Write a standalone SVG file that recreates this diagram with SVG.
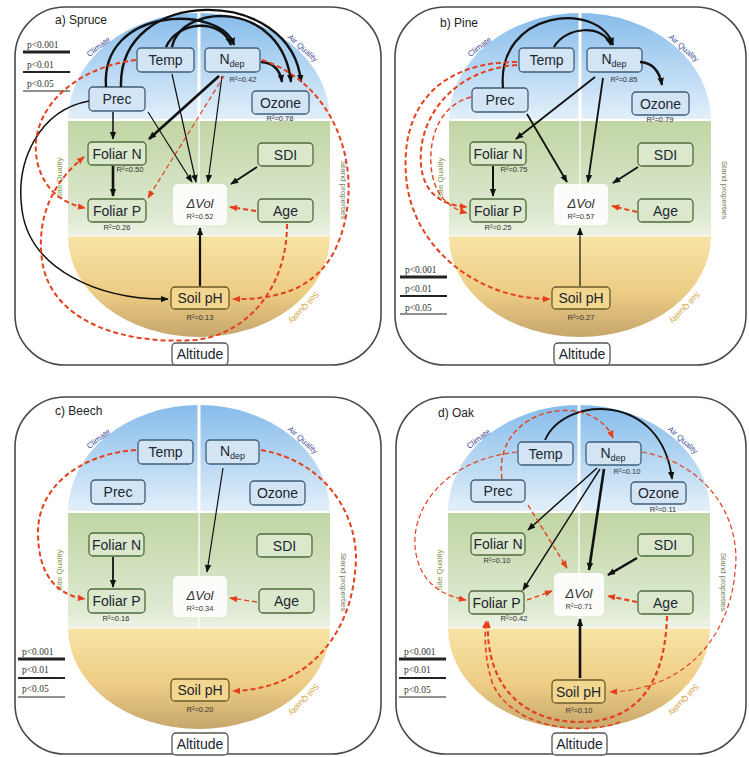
<svg xmlns="http://www.w3.org/2000/svg" xmlns:xlink="http://www.w3.org/1999/xlink" width="749" height="757" viewBox="0 0 749 757">
<style>
.frame{fill:none;stroke:#4a4a4a;stroke-width:1.6}
.nb{fill:#d3e5f5;stroke:#3f5d7a;stroke-width:1.3}
.ng{fill:#dce8cc;stroke:#4f6b3c;stroke-width:1.3}
.ns{fill:#f3d78f;stroke:#6e5a2c;stroke-width:1.3}
.na{fill:#fff;stroke:#555;stroke-width:1.3}
.nv{fill:#fff;fill-opacity:0.9;stroke:none}
.lbl{font-family:"Liberation Sans",Arial,sans-serif;font-size:14px;fill:#1c2630;text-anchor:middle}
.vol{font-family:"Liberation Sans",Arial,sans-serif;font-size:13px;font-style:italic;fill:#333;text-anchor:middle}
.r2{font-family:"Liberation Sans",Arial,sans-serif;font-size:7.5px;fill:#333;text-anchor:middle}
.ttl{font-family:"Liberation Sans",Arial,sans-serif;font-size:12px;fill:#222}
.leg{font-family:"Liberation Serif","Times New Roman",serif;font-size:9.5px;fill:#333}
.cat{font-family:"Liberation Sans",Arial,sans-serif;font-size:8px;text-anchor:middle}
.k{fill:none;stroke:#111;marker-end:url(#ab)}
.r{fill:none;stroke:#e5401d;stroke-dasharray:5 3;marker-end:url(#ar)}
</style>
<defs>
<linearGradient id="gb" x1="0" y1="0" x2="0" y2="1"><stop offset="0" stop-color="#86bceb"/><stop offset="1" stop-color="#e4f0fa"/></linearGradient>
<linearGradient id="gg" x1="0" y1="0" x2="0" y2="1"><stop offset="0" stop-color="#c0d5a3"/><stop offset="0.85" stop-color="#dfead3"/><stop offset="1" stop-color="#eef3e6"/></linearGradient>
<linearGradient id="gs" x1="0" y1="0" x2="0" y2="1"><stop offset="0" stop-color="#f8e4a6"/><stop offset="0.55" stop-color="#eecd85"/><stop offset="1" stop-color="#c6a66c"/></linearGradient>
<marker id="ab" viewBox="0 0 10 10" refX="9" refY="5" markerWidth="8" markerHeight="8" markerUnits="userSpaceOnUse" orient="auto"><path d="M0,1 L10,5 L0,9 z" fill="#111"/></marker>
<marker id="ar" viewBox="0 0 10 10" refX="9" refY="5" markerWidth="8" markerHeight="8" markerUnits="userSpaceOnUse" orient="auto"><path d="M0,1 L10,5 L0,9 z" fill="#e5401d"/></marker>
<g id="bg">
<path d="M68,120 A131,107 0 0 1 330,120 Z" fill="url(#gb)"/>
<rect x="68" y="120" width="262" height="116" fill="url(#gg)"/>
<path d="M68,236 A131,101 0 0 0 330,236 Z" fill="url(#gs)"/>
<line x1="199" y1="12" x2="199" y2="120" stroke="#fff" stroke-width="3"/>
<line x1="199" y1="120" x2="199" y2="236" stroke="#fff" stroke-width="2" opacity="0.6"/>
<line x1="68" y1="120" x2="330" y2="120" stroke="#fff" stroke-width="2"/>
<line x1="68" y1="236" x2="330" y2="236" stroke="#fff" stroke-width="1.5" opacity="0.6"/>
<text class="cat" fill="#41509a" transform="translate(100,49) rotate(-37)">Climate</text>
<text class="cat" fill="#41509a" transform="translate(301,50) rotate(42)">Air Quality</text>
<text class="cat" fill="#7d9a45" transform="translate(62,178) rotate(-90)">Site Quality</text>
<text class="cat" fill="#6f7f62" transform="translate(341,190) rotate(90)">Stand properties</text>
<text class="cat" fill="#d4a040" transform="translate(302,306) rotate(133)">Soil Quality</text>
</g>
</defs>
<rect width="749" height="757" fill="#fff"/>

<g id="frames">
<rect class="frame" x="15" y="7" width="366" height="358" rx="50"/>
<rect class="frame" x="395" y="7" width="351" height="358" rx="50"/>
<rect class="frame" x="15" y="397" width="366" height="357" rx="50"/>
<rect class="frame" x="396" y="397" width="350" height="357" rx="50"/>
</g>

<g id="backgrounds">
<use xlink:href="#bg" href="#bg"/>
<use xlink:href="#bg" href="#bg" transform="translate(381,0)"/>
<use xlink:href="#bg" href="#bg" transform="translate(0,392)"/>
<use xlink:href="#bg" href="#bg" transform="translate(380,392)"/>
</g>

<g id="titles">
<text class="ttl" x="55" y="24">a) Spruce</text>
<text class="ttl" x="440" y="27">b) Pine</text>
<text class="ttl" x="55" y="415">c) Beech</text>
<text class="ttl" x="438" y="417">d) Oak</text>
</g>

<g id="legends">
<text class="leg" x="27" y="48">p&lt;0.001</text><line x1="23" y1="52" x2="70" y2="52" stroke="#222" stroke-width="3"/>
<text class="leg" x="27" y="68">p&lt;0.01</text><line x1="23" y1="72" x2="70" y2="72" stroke="#222" stroke-width="2"/>
<text class="leg" x="27" y="87">p&lt;0.05</text><line x1="23" y1="91" x2="70" y2="91" stroke="#222" stroke-width="1"/>
<text class="leg" x="405" y="273">p&lt;0.001</text><line x1="400" y1="277" x2="447" y2="277" stroke="#222" stroke-width="3"/>
<text class="leg" x="405" y="292">p&lt;0.01</text><line x1="400" y1="296" x2="447" y2="296" stroke="#222" stroke-width="2"/>
<text class="leg" x="405" y="311">p&lt;0.05</text><line x1="400" y1="314" x2="447" y2="314" stroke="#222" stroke-width="1"/>
<text class="leg" x="22" y="655">p&lt;0.001</text><line x1="18" y1="659" x2="65" y2="659" stroke="#222" stroke-width="3"/>
<text class="leg" x="22" y="673">p&lt;0.01</text><line x1="18" y1="678" x2="65" y2="678" stroke="#222" stroke-width="2"/>
<text class="leg" x="22" y="692">p&lt;0.05</text><line x1="18" y1="697" x2="65" y2="697" stroke="#222" stroke-width="1"/>
<text class="leg" x="404" y="655">p&lt;0.001</text><line x1="399" y1="659" x2="446" y2="659" stroke="#222" stroke-width="3"/>
<text class="leg" x="404" y="673">p&lt;0.01</text><line x1="399" y1="678" x2="446" y2="678" stroke="#222" stroke-width="2"/>
<text class="leg" x="404" y="693">p&lt;0.05</text><line x1="399" y1="697" x2="446" y2="697" stroke="#222" stroke-width="1"/>
</g>

<g id="panel-a">
<g id="a-dvol"><rect class="nv" x="173" y="184" width="54" height="41" rx="5"/><text class="vol" x="200" y="208">ΔVol</text><text class="r2" x="200" y="219">R²=0.52</text></g>
<g id="a-temp"><rect class="nb" x="137" y="48" width="57" height="24" rx="4"/><text class="lbl" x="165.5" y="65">Temp</text></g>
<g id="a-ndep"><rect class="nb" x="205" y="48" width="55" height="24" rx="4"/><text class="lbl" x="232" y="64">N<tspan font-size="9" dy="3">dep</tspan></text><text class="r2" x="243" y="82">R²=0.42</text></g>
<g id="a-prec"><rect class="nb" x="89" y="87" width="56" height="24" rx="4"/><text class="lbl" x="117" y="104">Prec</text></g>
<g id="a-ozone"><rect class="nb" x="252" y="91" width="57" height="23" rx="4"/><text class="lbl" x="280.5" y="107.5">Ozone</text><text class="r2" x="280" y="121">R²=0.78</text></g>
<g id="a-foliarn"><rect class="ng" x="88" y="142" width="58" height="23" rx="4"/><text class="lbl" x="117" y="158.5">Foliar N</text><text class="r2" x="130" y="172">R²=0.50</text></g>
<g id="a-sdi"><rect class="ng" x="258" y="143" width="55" height="23" rx="4"/><text class="lbl" x="285.5" y="159.5">SDI</text></g>
<g id="a-foliarp"><rect class="ng" x="88" y="199" width="58" height="23" rx="4"/><text class="lbl" x="117" y="215.5">Foliar P</text><text class="r2" x="117" y="230">R²=0.26</text></g>
<g id="a-age"><rect class="ng" x="258" y="199" width="55" height="23" rx="4"/><text class="lbl" x="285.5" y="215.5">Age</text></g>
<g id="a-soilph"><rect class="ns" x="171" y="287" width="58" height="22" rx="4"/><text class="lbl" x="200" y="303">Soil pH</text><text class="r2" x="200" y="320">R²=0.13</text></g>
<g id="a-altitude"><rect class="na" x="172" y="343" width="56" height="22" rx="4"/><text class="lbl" x="200" y="359">Altitude</text></g>
</g>

<g id="panel-b" transform="translate(381,0)">
<g id="b-dvol"><rect class="nv" x="173" y="184" width="54" height="41" rx="5"/><text class="vol" x="200" y="208">ΔVol</text><text class="r2" x="200" y="219">R²=0.57</text></g>
<g id="b-temp"><rect class="nb" x="138" y="48" width="55" height="24" rx="4"/><text class="lbl" x="165.5" y="65">Temp</text></g>
<g id="b-ndep"><rect class="nb" x="206" y="48" width="55" height="24" rx="4"/><text class="lbl" x="233" y="64">N<tspan font-size="9" dy="3">dep</tspan></text><text class="r2" x="243" y="82">R²=0.85</text></g>
<g id="b-prec"><rect class="nb" x="91" y="88" width="56" height="24" rx="4"/><text class="lbl" x="119" y="105">Prec</text></g>
<g id="b-ozone"><rect class="nb" x="251" y="92" width="57" height="23" rx="4"/><text class="lbl" x="279.5" y="108.5">Ozone</text><text class="r2" x="279" y="122">R²=0.79</text></g>
<g id="b-foliarn"><rect class="ng" x="89" y="142" width="56" height="23" rx="4"/><text class="lbl" x="117" y="158.5">Foliar N</text><text class="r2" x="133" y="172">R²=0.75</text></g>
<g id="b-sdi"><rect class="ng" x="257" y="143" width="55" height="23" rx="4"/><text class="lbl" x="284.5" y="159.5">SDI</text></g>
<g id="b-foliarp"><rect class="ng" x="89" y="199" width="56" height="23" rx="4"/><text class="lbl" x="117" y="215.5">Foliar P</text><text class="r2" x="117" y="230">R²=0.25</text></g>
<g id="b-age"><rect class="ng" x="257" y="199" width="55" height="23" rx="4"/><text class="lbl" x="284.5" y="215.5">Age</text></g>
<g id="b-soilph"><rect class="ns" x="171" y="287" width="58" height="22" rx="4"/><text class="lbl" x="200" y="303">Soil pH</text><text class="r2" x="200" y="320">R²=0.27</text></g>
<g id="b-altitude"><rect class="na" x="173" y="343" width="56" height="22" rx="4"/><text class="lbl" x="201" y="359">Altitude</text></g>
</g>

<g id="panel-c" transform="translate(0,392)">
<g id="c-dvol"><rect class="nv" x="173" y="184" width="54" height="41" rx="5"/><text class="vol" x="200" y="208">ΔVol</text><text class="r2" x="200" y="219">R²=0.34</text></g>
<g id="c-temp"><rect class="nb" x="138" y="48" width="55" height="24" rx="4"/><text class="lbl" x="165.5" y="65">Temp</text></g>
<g id="c-ndep"><rect class="nb" x="206" y="48" width="53" height="24" rx="4"/><text class="lbl" x="232.5" y="64">N<tspan font-size="9" dy="3">dep</tspan></text></g>
<g id="c-prec"><rect class="nb" x="91" y="88" width="54" height="24" rx="4"/><text class="lbl" x="118" y="105">Prec</text></g>
<g id="c-ozone"><rect class="nb" x="250" y="89" width="55" height="24" rx="4"/><text class="lbl" x="277.5" y="106">Ozone</text></g>
<g id="c-foliarn"><rect class="ng" x="89" y="141" width="55" height="23" rx="4"/><text class="lbl" x="116.5" y="157.5">Foliar N</text></g>
<g id="c-sdi"><rect class="ng" x="257" y="142" width="55" height="23" rx="4"/><text class="lbl" x="284.5" y="158.5">SDI</text></g>
<g id="c-foliarp"><rect class="ng" x="88" y="197" width="57" height="24" rx="4"/><text class="lbl" x="116.5" y="214">Foliar P</text><text class="r2" x="116" y="229">R²=0.16</text></g>
<g id="c-age"><rect class="ng" x="259" y="197" width="55" height="24" rx="4"/><text class="lbl" x="286.5" y="214">Age</text></g>
<g id="c-soilph"><rect class="ns" x="171" y="287" width="58" height="22" rx="4"/><text class="lbl" x="200" y="303">Soil pH</text><text class="r2" x="200" y="320">R²=0.20</text></g>
<g id="c-altitude"><rect class="na" x="172" y="341" width="56" height="22" rx="4"/><text class="lbl" x="200" y="357">Altitude</text></g>
</g>

<g id="panel-d" transform="translate(380,392)">
<g id="d-dvol"><rect class="nv" x="174" y="181" width="50" height="43" rx="5"/><text class="vol" x="199" y="206">ΔVol</text><text class="r2" x="199" y="217">R²=0.71</text></g>
<g id="d-temp"><rect class="nb" x="138" y="50" width="55" height="23" rx="4"/><text class="lbl" x="165.5" y="66.5">Temp</text></g>
<g id="d-ndep"><rect class="nb" x="206" y="50" width="55" height="23" rx="4"/><text class="lbl" x="233" y="66">N<tspan font-size="9" dy="3">dep</tspan></text><text class="r2" x="247" y="82">R²=0.10</text></g>
<g id="d-prec"><rect class="nb" x="91" y="88" width="54" height="22" rx="4"/><text class="lbl" x="118" y="104">Prec</text></g>
<g id="d-ozone"><rect class="nb" x="251" y="90" width="55" height="22" rx="4"/><text class="lbl" x="278.5" y="106">Ozone</text><text class="r2" x="283" y="120">R²=0.11</text></g>
<g id="d-foliarn"><rect class="ng" x="91" y="141" width="54" height="22" rx="4"/><text class="lbl" x="118" y="157">Foliar N</text><text class="r2" x="117" y="171">R²=0.10</text></g>
<g id="d-sdi"><rect class="ng" x="258" y="142" width="55" height="22" rx="4"/><text class="lbl" x="285.5" y="158">SDI</text></g>
<g id="d-foliarp"><rect class="ng" x="89" y="199" width="55" height="23" rx="4"/><text class="lbl" x="116.5" y="215.5">Foliar P</text><text class="r2" x="134" y="229">R²=0.42</text></g>
<g id="d-age"><rect class="ng" x="258" y="199" width="55" height="23" rx="4"/><text class="lbl" x="285.5" y="215.5">Age</text></g>
<g id="d-soilph"><rect class="ns" x="172" y="288" width="53" height="23" rx="4"/><text class="lbl" x="198.5" y="304.5">Soil pH</text><text class="r2" x="199" y="321">R²=0.10</text></g>
<g id="d-altitude"><rect class="na" x="172" y="341" width="55" height="22" rx="4"/><text class="lbl" x="199.5" y="357">Altitude</text></g>
</g>

<g id="connectors">
<g id="conn-a">
<path class="k" stroke-width="2.4" d="M166,47 C178,20 222,18 231,45"/>
<path class="k" stroke-width="2.4" d="M106,87 C100,5 222,5 234,45"/>
<path class="k" stroke-width="2.4" d="M172,47 C182,2 282,0 291,82"/>
<path class="k" stroke-width="2.4" d="M121,87 C118,-15 292,-15 301,82"/>
<path class="k" stroke-width="2.4" d="M261,62 Q279,63 282,82"/>
<path class="k" stroke-width="1.5" d="M89,101 C40,110 15,160 22,210 C30,270 100,300 168,299"/>
<path class="k" stroke-width="1.5" d="M113,112 L113,139"/>
<path class="k" stroke-width="2.6" d="M113,166 L113,196"/>
<path class="k" stroke-width="2.6" d="M219,76 L149,139"/>
<path class="k" stroke-width="1.2" d="M148,112 L192,182"/>
<path class="k" stroke-width="1.2" d="M172,74 L196,182"/>
<path class="k" stroke-width="1.2" d="M222,76 L208,182"/>
<path class="k" stroke-width="1.8" d="M257,167 L231,184"/>
<path class="k" stroke-width="2.2" d="M200,286 L200,228"/>
<path class="r" stroke-width="1.2" d="M224,76 L148,198"/>
<path class="r" stroke-width="2" d="M136,60 C70,68 25,115 38,165 C45,190 62,203 85,208"/>
<path class="r" stroke-width="2" d="M287,224 C287,290 245,335 195,340 C120,345 50,320 42,260 C36,215 55,180 84,157"/>
<path class="r" stroke-width="2" d="M262,60 C340,85 368,180 335,250 C315,290 275,300 233,299"/>
<path class="r" stroke-width="2" d="M256,211 L230,207"/>
</g>
<g id="conn-b" transform="translate(381,0)">
<path class="k" stroke-width="2.2" d="M122,88 C115,10 218,0 232,45"/>
<path class="k" stroke-width="2.2" d="M173,47 C185,26 222,24 230,45"/>
<path class="k" stroke-width="2.4" d="M259,62 Q277,63 281,85"/>
<path class="k" stroke-width="1.8" d="M214,77 L135,139"/>
<path class="k" stroke-width="1.8" d="M222,78 L207,182"/>
<path class="k" stroke-width="1.8" d="M146,114 L186,182"/>
<path class="k" stroke-width="1.8" d="M257,167 L232,183"/>
<path class="k" stroke-width="2" d="M112,166 L112,196"/>
<path class="k" stroke-width="1.2" d="M199,286 L199,228"/>
<path class="r" stroke-width="2" d="M256,212 L231,206"/>
<path class="r" stroke-width="2" d="M136,62 C55,62 20,110 25,175 C30,250 100,300 169,299"/>
<path class="r" stroke-width="2" d="M136,65 C70,70 36,120 40,165 C43,195 62,205 86,207"/>
<path class="r" stroke-width="1.4" d="M90,97 C60,105 48,135 50,165 C52,195 68,208 86,213"/>
</g>
<g id="conn-c" transform="translate(0,392)">
<path class="r" stroke-width="2" d="M136,58 C80,62 38,95 38,140 C38,185 58,203 85,207"/>
<path class="r" stroke-width="2" d="M261,58 C330,70 362,130 355,180 C350,240 310,297 233,299"/>
<path class="k" stroke-width="1.2" d="M223,76 L207,180"/>
<path class="k" stroke-width="1.8" d="M113,165 L113,195"/>
<path class="r" stroke-width="1.3" d="M257,210 L230,206"/>
</g>
<g id="conn-d" transform="translate(380,392)">
<path class="k" stroke-width="1.8" d="M165,48 C185,3 282,0 292,87"/>
<path class="r" stroke-width="1.4" d="M122,87 C112,15 212,-3 233,46"/>
<path class="r" stroke-width="1.2" d="M137,60 C62,68 28,120 36,162 C42,192 62,203 86,208"/>
<path class="r" stroke-width="1.2" d="M262,60 C330,72 362,130 355,180 C350,240 310,297 230,300"/>
<path class="k" stroke-width="1.5" d="M217,76 L148,138"/>
<path class="k" stroke-width="1.4" d="M220,77 L143,198"/>
<path class="k" stroke-width="2.6" d="M224,77 L209,178"/>
<path class="r" stroke-width="1.4" d="M148,113 L187,176"/>
<path class="k" stroke-width="2.6" d="M257,166 L228,183"/>
<path class="r" stroke-width="1.4" d="M147,208 L172,199"/>
<path class="r" stroke-width="2.2" d="M257,210 L228,204"/>
<path class="k" stroke-width="2.6" d="M200,286 L200,227"/>
<path class="r" stroke-width="2.2" d="M287,224 C285,300 250,330 200,330 C140,330 105,290 108,229"/>
<path class="r" stroke-width="1.6" d="M240,330 C200,345 130,335 112,290 C106,270 104,250 106,229"/>
</g>
</g>
</svg>
